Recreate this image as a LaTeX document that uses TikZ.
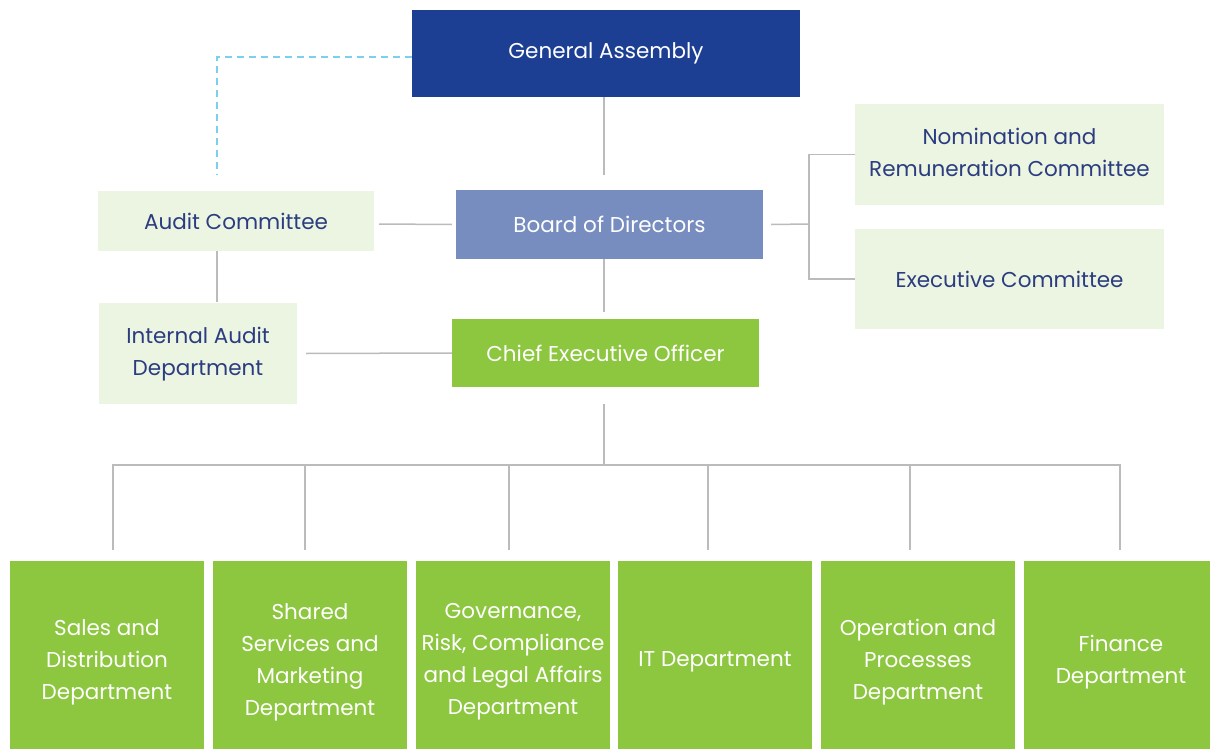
\documentclass[tikz,border=0pt]{standalone}
\usepackage{fontspec}
\setmainfont{Poppins}
\usetikzlibrary{calc}
\definecolor{gadark}{HTML}{1D3F93}
\definecolor{boardblue}{HTML}{778DC0}
\definecolor{palegreen}{HTML}{ECF5E1}
\definecolor{leafgreen}{HTML}{8DC63F}
\definecolor{navytext}{HTML}{2B3D80}
\definecolor{linkgray}{HTML}{BBBBBB}
\definecolor{dashblue}{HTML}{7DCFF0}
\tikzset{
  unitfont/.style={font=\fontsize{21.5}{32}\selectfont},
  unitbox/.style={inner sep=0pt, align=center, unitfont},
  topbox/.style={unitbox, fill=gadark, text=white},
  boardbox/.style={unitbox, fill=boardblue, text=white},
  committeebox/.style={unitbox, fill=palegreen, text=navytext},
  greenbox/.style={unitbox, fill=leafgreen, text=white},
  deptbox/.style={greenbox, minimum width=194pt, minimum height=188pt},
  depttext/.style={inner sep=0pt, align=center, unitfont, text=white, yshift=-7pt},
  link/.style={draw=linkgray, line width=1.5pt},
  dottedlink/.style={draw=dashblue, line width=1.8pt, dash pattern=on 7pt off 5pt}
}
\begin{document}
\begin{tikzpicture}[x=1pt, y=-1pt]
\useasboundingbox (0,0) rectangle (1210,749);

% governance boxes
\node[topbox, minimum width=388pt, minimum height=87pt] (ga) at (606,53.5) {General Assembly};
\node[boardbox, minimum width=307pt, minimum height=69pt] (board) at (609.5,224.5) {Board of Directors};
\node[committeebox, minimum width=276pt, minimum height=60pt] (audit) at (236,221) {Audit Committee};
\node[committeebox, minimum width=309pt, minimum height=101pt] (nom) at (1009.5,154.5) {\raisebox{2pt}{\begin{tabular}{@{}c@{}}Nomination and\\Remuneration Committee\end{tabular}}};
\node[committeebox, minimum width=309pt, minimum height=100pt] (exec) at (1009.5,279) {Executive Committee};
\node[committeebox, minimum width=198pt, minimum height=101pt] (iad) at (198,353.5) {\raisebox{-6pt}{\begin{tabular}{@{}c@{}}Internal Audit\\Department\end{tabular}}};
\node[greenbox, minimum width=307pt, minimum height=68pt] (ceo) at (605.5,353) {\raisebox{-2pt}{Chief Executive Officer}};

% departments
\node[deptbox, label={[depttext]center:{Sales and\\Distribution\\Department}}] (d1) at (107,655) {};
\node[deptbox, label={[depttext]center:{Shared\\Services and\\Marketing\\Department}}] (d2) at (310,655) {};
\node[deptbox, label={[depttext]center:{Governance,\\Risk, Compliance\\and Legal Affairs\\Department}}] (d3) at (513,655) {};
\node[deptbox, label={[depttext]center:{IT Department}}] (d4) at (715,655) {};
\node[deptbox, label={[depttext]center:{Operation and\\Processes\\Department}}] (d5) at (918,655) {};
\node[deptbox, label={[depttext]center:{Finance\\Department}}] (d6) at (1121,655) {};

% dashed reporting line from the general assembly to the audit committee
\coordinate (dashcorner) at (217,57);
\draw[dottedlink] (ga.west |- dashcorner) -- (dashcorner) -- ($(dashcorner |- audit.north)+(0,-16)$);

% upper hierarchy
\draw[link] (604,97) -- (604,175);
\draw[link] (604,259) -- (604,312);
\draw[link] ($(audit.east)+(5,3)$) -- ($(board.west)+(-4,0)$);
\draw[link] (217,251) -- (217,302);
\draw[link] ($(iad.east)+(9,0)$) -- (ceo.west);

% committees bracket
\coordinate (bracket) at (809,224);
\draw[link] ($(board.east)+(8,0)$) -- (bracket);
\draw[link] (nom.west) -- (nom.west -| bracket) -- (exec.west -| bracket) -- (exec.west);

% departments tree
\coordinate (bus) at (604,465);
\draw[link] (604,404) -- (bus);
\draw[link] (113,550) -- (113,465) -- (1120,465) -- (1120,550);
\draw[link] (305,465) -- (305,550);
\draw[link] (509,465) -- (509,550);
\draw[link] (708,465) -- (708,550);
\draw[link] (910,465) -- (910,550);
\end{tikzpicture}
\end{document}
